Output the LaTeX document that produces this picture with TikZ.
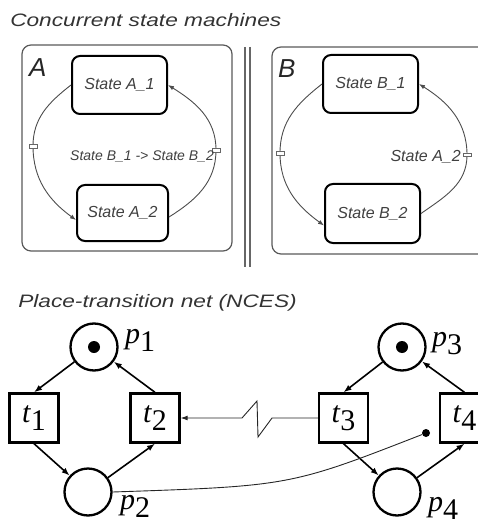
\documentclass[tikz,border=0pt]{standalone}
\usepackage{fontspec}
\newfontfamily\arialf{Liberation Sans}
\newfontfamily\timesf{Liberation Serif}
\usetikzlibrary{arrows.meta}
% Petri-net label: italic letter with a full-size, lowered index
\newcommand\pnlab[2]{{\timesf\fontsize{30}{30}\selectfont\itshape #1\/\upshape\raisebox{-8pt}{#2}}}
\tikzset{
  heading/.style={font=\arialf\itshape\fontsize{18}{20}\selectfont, text=black!80, anchor=base west, inner sep=0pt, xscale=1.26},
  region/.style={draw=black!65, line width=1.2pt, rounded corners=9pt},
  regionname/.style={font=\arialf\itshape\fontsize{26}{28}\selectfont, text=black!85, anchor=base west, inner sep=0pt},
  statebox/.style={draw=black, line width=2pt, rounded corners=8pt, inner sep=0pt, minimum width=95pt, minimum height=58pt, font=\arialf\itshape\fontsize{16}{18}\selectfont, text=black!75},
  arcline/.style={draw=black!70, line width=0.9pt, -{Latex[length=6pt,width=4.5pt]}},
  guardbox/.style={draw=black!60, fill=white, line width=0.7pt, minimum width=8pt, minimum height=4pt, inner sep=0pt},
  guardtext/.style={font=\arialf\itshape\fontsize{14}{16}\selectfont, text=black!75, anchor=base east, inner sep=0pt},
  sepline/.style={draw=black!60, line width=1.2pt},
  place/.style={circle, draw=black, line width=2.3pt, minimum size=47pt, inner sep=0pt},
  transition/.style={rectangle, draw=black, line width=2.3pt, minimum size=49pt, inner sep=0pt},
  token/.style={circle, fill=black, minimum size=12pt, inner sep=0pt},
  pnarrow/.style={draw=black, line width=1.6pt, -{Latex[length=8pt,width=6pt]}},
  thinline/.style={draw=black!85, line width=0.9pt},
  dotnode/.style={circle, fill=black, minimum size=8pt, inner sep=0pt},
  pname/.style={anchor=base west, inner sep=0pt}
}
\begin{document}
\begin{tikzpicture}[x=1pt,y=1pt]
\useasboundingbox (0,0) rectangle (478,-521);

% ---------- concurrent state machines ----------
\node[heading] (h1) at (10,-27) {Concurrent state machines};

\draw[region] (22,-45) rectangle (232,-251);
\draw[region] (272,-47) rectangle (490,-254);
\draw[sepline] (245,-47) -- (245,-267);
\draw[sepline] (250,-47) -- (250,-267);

\node[regionname] (nA) at (29,-77) {A};
\node[regionname] (nB) at (278,-78) {B};

\node[statebox] (A1) at (119.5,-85) {State A\_1};
\node[statebox, minimum width=91pt, minimum height=56pt] (A2) at (122.5,-213) {State A\_2};
\node[statebox] (B1) at (370.5,-84) {State B\_1};
\node[statebox, minimum height=59pt] (B2) at (372.5,-213.5) {State B\_2};

\coordinate (gA1) at (33,-146);
\coordinate (gA2) at (216,-150);
\coordinate (gB1) at (280,-153);
\coordinate (gB2) at (467,-155);

\draw[arcline] (A1.west) to[out=218,in=90] (gA1) to[out=-90,in=144] ([yshift=-7pt]A2.west);
\draw[arcline] ([yshift=-4pt]A2.east) to[out=32,in=-90] (gA2) to[out=90,in=-32] (A1.east);
\draw[arcline] (B1.west) to[out=218,in=90] (gB1) to[out=-90,in=144] ([yshift=-12pt]B2.west);
\draw[arcline] (B2.east) to[out=35,in=-90] (gB2) to[out=90,in=-32] (B1.east);

\node[guardbox] (mA1) at (gA1) {};
\node[guardbox] (mA2) at (gA2) {};
\node[guardbox] (mB1) at (gB1) {};
\node[guardbox, minimum height=2.5pt] (mB2) at (gB2) {};

\node[guardtext] (lA) at (214,-161) {State B\_1 -> State B\_2};
\node[guardtext, font=\arialf\itshape\fontsize{16}{18}\selectfont] (lB) at (461,-162) {State A\_2};

% ---------- place-transition net ----------
\node[heading] (h2) at (18,-307) {Place-transition net (NCES)};

\node[place] (p1) at (94,-347) {};
\node[place] (p2) at (88,-492) {};
\node[place] (p3) at (402,-347) {};
\node[place] (p4) at (397,-492) {};
\node[token] (k1) at (p1) {};
\node[token] (k3) at (p3) {};

\node[transition] (t1) at (34,-418) {\pnlab{t}{1}};
\node[transition] (t2) at (155,-418) {\pnlab{t}{2}};
\node[transition] (t3) at (343.5,-418) {\pnlab{t}{3}};
\node[transition] (t4) at (464.5,-418) {\pnlab{t}{4}};

\node[pname] (lp1) at (125,-343) {\pnlab{p}{1}};
\node[pname] (lp2) at (120,-509) {\pnlab{p}{2}};
\node[pname] (lp3) at (432,-346) {\pnlab{p}{3}};
\node[pname] (lp4) at (428,-511) {\pnlab{p}{4}};

\draw[pnarrow] (p1) -- (t1.north);
\draw[pnarrow] (t2.north) -- (p1);
\draw[pnarrow] (t1.south) -- (p2);
\draw[pnarrow] (p2) -- (t2.south);

\draw[pnarrow] (p3) -- (t3.north);
\draw[pnarrow] (t4.north) -- (p3);
\draw[pnarrow] (t3.south) -- (p4);
\draw[pnarrow] (p4) -- (t4.south);

% signal arc with break mark
\coordinate (z1) at (272,-418);
\coordinate (z2) at (258,-437);
\coordinate (z3) at (257,-401);
\coordinate (z4) at (242,-418);
\draw[thinline, -{Latex[length=7pt,width=5pt]}] (t3.west) -- (z1) -- (z2) -- (z3) -- (z4) -- (t2.east);

% condition arc ending in a dot
\node[dotnode] (d4) at (426,-433) {};
\draw[thinline] (p2.east) .. controls (290,-486) .. (d4);
\end{tikzpicture}
\end{document}
